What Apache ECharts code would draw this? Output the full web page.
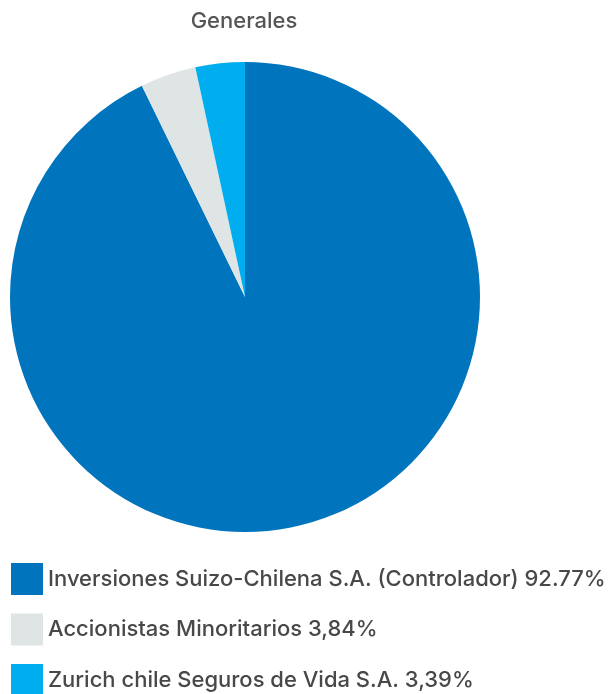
<!DOCTYPE html>
<html><head><meta charset="utf-8">
<script src="https://cdn.jsdelivr.net/npm/echarts@6/dist/echarts.min.js"></script>
<style>html,body{margin:0;padding:0;background:#fff}#c{width:614px;height:694px}</style>
</head><body><div id="c"></div>
<script>
const title = 'Generales';
const categories = ['Inversiones Suizo-Chilena S.A. (Controlador) 92.77%', 'Accionistas Minoritarios 3,84%', 'Zurich chile Seguros de Vida S.A. 3,39%'];
const values = [92.77, 3.84, 3.39];
const colors = ['#0075BE', '#DFE4E5', '#00AEEF'];
const chart = echarts.init(document.getElementById('c'));
chart.setOption({
  animation: false,
  title: { text: title, left: 244, textAlign: 'center', top: 10, padding: 0, textStyle: { fontFamily: 'Inter', fontSize: 22, fontWeight: 500, color: '#555' } },
  legend: {
    orient: 'vertical', left: 11, top: 563, height: 200, padding: 0, itemWidth: 32, itemHeight: 32, itemGap: 18.5, itemTextGap: 8,
    icon: 'rect', selectedMode: false,
    textStyle: { fontFamily: 'Inter', fontSize: 22, fontWeight: 500, color: '#484848' },
    data: categories
  },
  series: [{
    type: 'pie', center: [245, 297], radius: [0, 235], startAngle: 90, clockwise: true,
    label: { show: false }, labelLine: { show: false }, silent: true,
    itemStyle: { borderWidth: 0 },
    data: categories.map((n, i) => ({ name: n, value: values[i], itemStyle: { color: colors[i] } }))
  }]
});
</script></body></html>
